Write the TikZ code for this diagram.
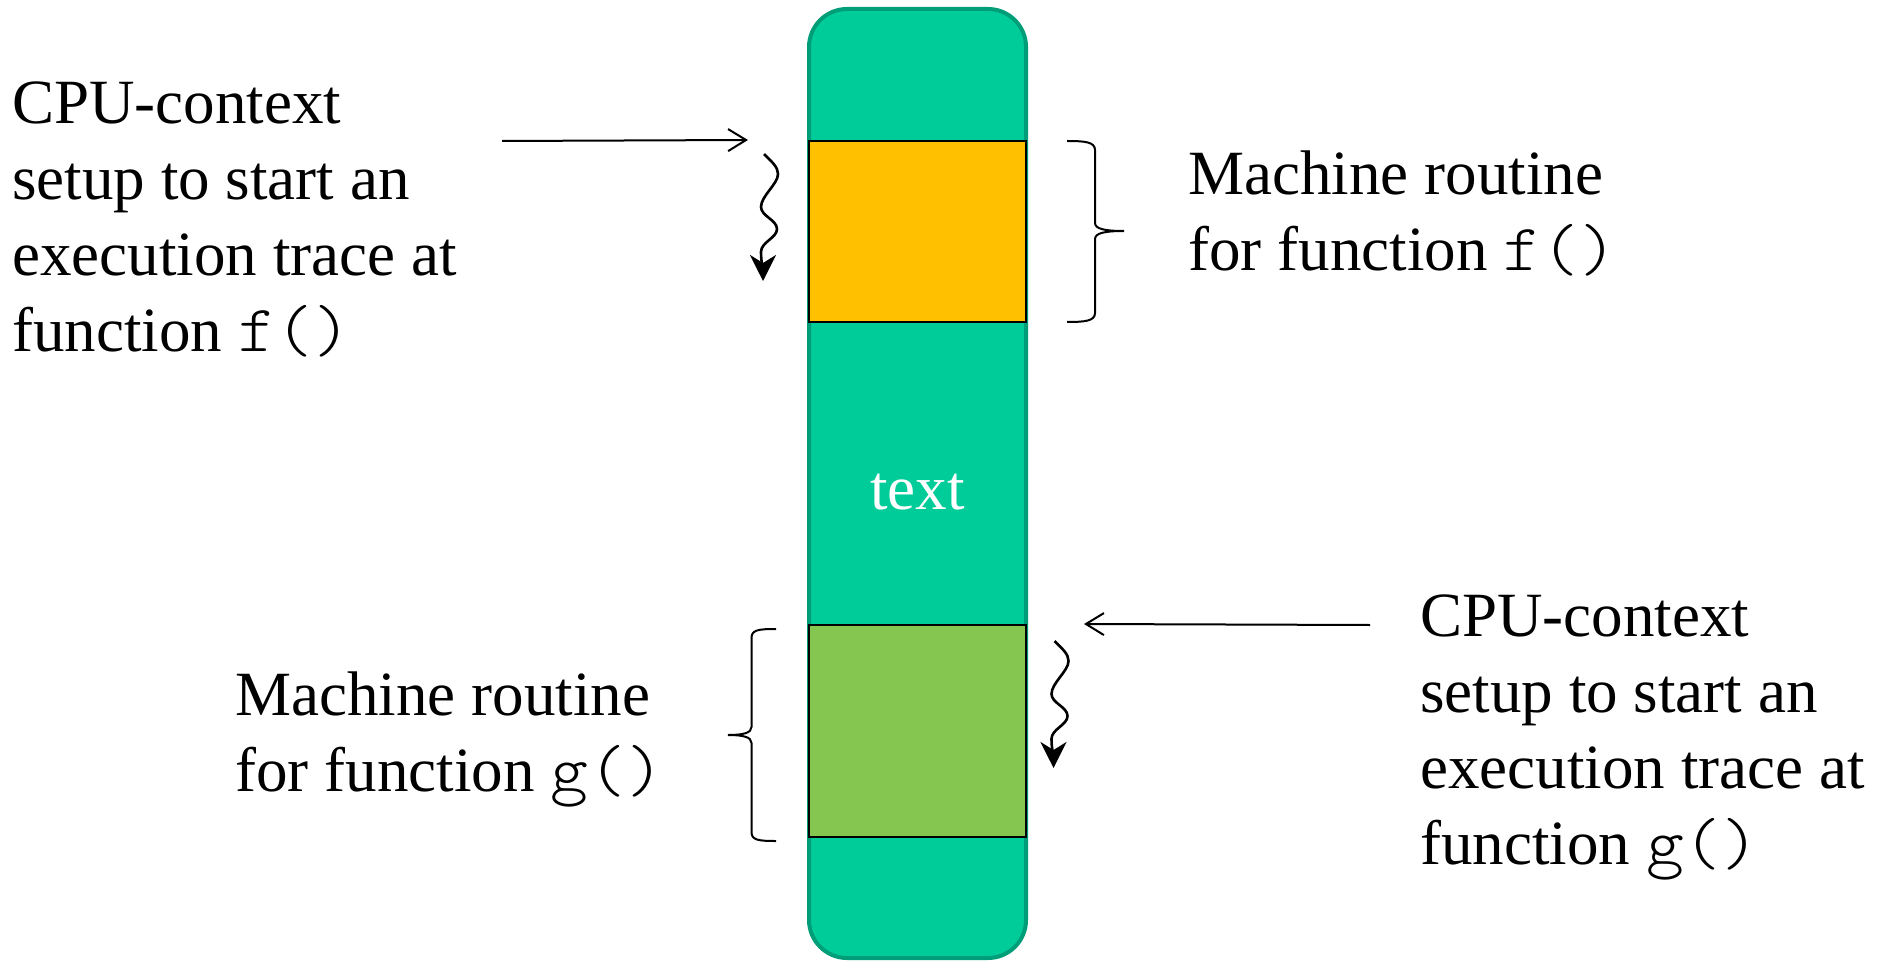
\documentclass[tikz,border=0pt]{standalone}
\usepackage{fontspec}
\setmainfont{Liberation Serif}
\setmonofont{lmmonolt10-regular.otf}[Scale=1.05,FakeStretch=1.09]
\usetikzlibrary{arrows.meta}
\definecolor{tealfill}{HTML}{00CC99}
\definecolor{tealline}{HTML}{009E78}
\definecolor{orangefill}{HTML}{FFC000}
\definecolor{greenfill}{HTML}{84C64F}
\begin{document}
\begin{tikzpicture}[x=0.5pt,y=-0.5pt,
  blk/.style={draw=black, line width=1pt, minimum width=108.5pt, inner sep=0pt},
  lbl/.style={anchor=base west, inner sep=0pt, align=left, font=\fontsize{31.5}{38}\selectfont},
  ptr/.style={line width=1pt, -{Straight Barb[length=9pt,width=11pt]}},
  wig/.style={line width=1.3pt, -{Stealth[length=13pt,width=13pt,inset=4pt]}},
  brc/.style={line width=1pt},
  squig/.pic={\draw[wig] (0,0) .. controls (8,8) and (14,13) .. (14,20)
      .. controls (14,30) and (-3,42) .. (-3,53)
      .. controls (-3,62) and (13,66) .. (13,75)
      .. controls (13,84) and (-3,88) .. (-3,98)
      .. controls (-3,108) and (-1,115) .. (-1,127);}
]
\useasboundingbox (0,0) rectangle (1893,962);

% memory column
\node[draw=tealline, fill=tealfill, line width=2pt, rounded corners=19pt,
      minimum width=108.5pt, minimum height=474.5pt, inner sep=0pt] (mem) at (917.5,483.5) {};
\node[blk, fill=orangefill, minimum height=90.5pt] (fblk) at (917.5,231.5) {};
\node[blk, fill=greenfill, minimum height=106pt] (gblk) at (917.5,731) {};
\node[anchor=base, inner sep=0pt, text=white, font=\fontsize{31.5}{38}\selectfont] (txt) at (917.5,509) {text};

% labels (base anchor = baseline of last line)
\node[lbl] (ltop) at (12,351) {CPU-context\\setup to start an\\execution trace at\\function \texttt{f()}};
\node[lbl] (rtop) at (1188,271) {Machine routine\\for function \texttt{f()}};
\node[lbl] (lbot) at (235,791) {Machine routine\\for function \texttt{g()}};
\node[lbl] (rbot) at (1420,864) {CPU-context\\setup to start an\\execution trace at\\function \texttt{g()}};

% straight pointers
\coordinate (fsrc) at (502,141);
\coordinate (fdst) at ([xshift=-30pt]fblk.north west);
\draw[ptr] (fsrc) -- (fdst);
\coordinate (gsrc) at (1370,625);
\coordinate (gdst) at ([xshift=28.5pt]gblk.north east);
\draw[ptr] (gsrc) -- (gdst);

% squiggly execution arrows
\pic at (764,154) {squig};
\pic at (1054.5,641) {squig};

% braces
\draw[brc] (1067,141) .. controls (1085,141) and (1095,142) .. (1095,150) -- (1095,223)
   .. controls (1095,229) and (1105,231) .. (1124,231)
   .. controls (1105,231) and (1095,233) .. (1095,239) -- (1095,313)
   .. controls (1095,321) and (1085,322) .. (1067,322);
\draw[brc] (776,629) .. controls (758,629) and (751.5,630) .. (751.5,638) -- (751.5,727)
   .. controls (751.5,733) and (743,735) .. (728,735)
   .. controls (743,735) and (751.5,737) .. (751.5,743) -- (751.5,832)
   .. controls (751.5,840) and (758,841) .. (776,841);
\end{tikzpicture}
\end{document}
